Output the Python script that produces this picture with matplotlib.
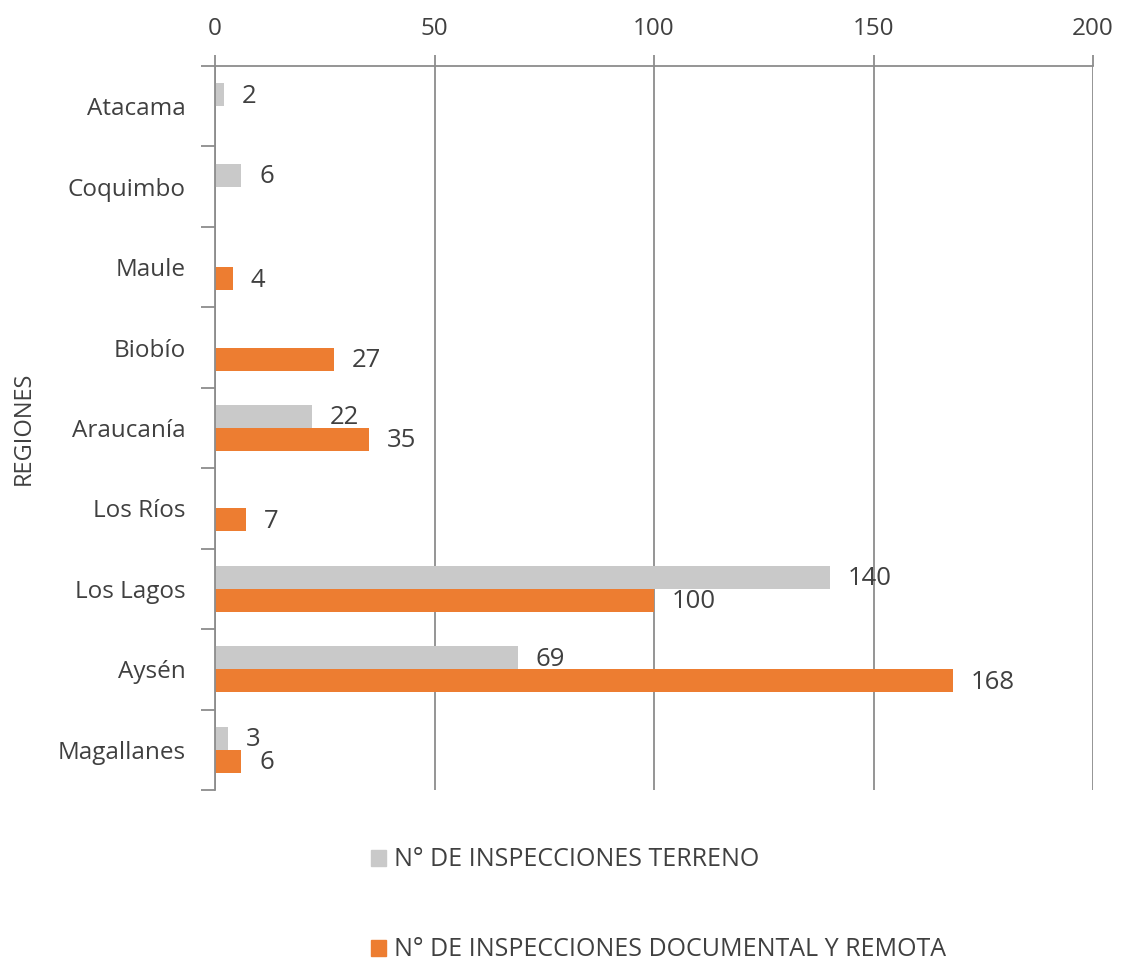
import numpy as np
import matplotlib.pyplot as plt
from matplotlib.patches import Patch

regions = ['Atacama', 'Coquimbo', 'Maule', 'Biobío', 'Araucanía',
           'Los Ríos', 'Los Lagos', 'Aysén', 'Magallanes']
terreno = [2, 6, 0, 0, 22, 0, 140, 69, 3]
documental = [0, 0, 4, 27, 35, 7, 100, 168, 6]
x_ticks = [0, 50, 100, 150, 200]
series_names = ['N° DE INSPECCIONES TERRENO',
                'N° DE INSPECCIONES DOCUMENTAL Y REMOTA']

gray = '#c9c9c9'
orange = '#ed7d31'
txt = '#404040'
line = '#8c8c8c'

plt.rcParams['font.family'] = ['Open Sans', 'DejaVu Sans']

fig = plt.figure(figsize=(11.22, 9.61), dpi=100)
ax = fig.add_axes([215 / 1122, 1 - 790 / 961, (1093 - 215) / 1122, (790 - 66) / 961])

y = np.arange(len(regions))
h = 0.286
for i, (t, d) in enumerate(zip(terreno, documental)):
    if t:
        ax.barh(y[i] - h / 2, t, height=h, color=gray, zorder=2)
        ax.annotate(str(t), (t, y[i] - h / 2), xytext=(13, -1), textcoords='offset points',
                    va='center', ha='left', fontsize=18.5, color=txt)
    if d:
        ax.barh(y[i] + h / 2, d, height=h, color=orange, zorder=2)
        ax.annotate(str(d), (d, y[i] + h / 2), xytext=(13, -1), textcoords='offset points',
                    va='center', ha='left', fontsize=18.5, color=txt)

ax.set_xlim(0, 200)
ax.set_ylim(len(regions) - 0.5, -0.5)
ax.xaxis.tick_top()
ax.set_xticks(x_ticks)
ax.set_xticklabels([str(v) for v in x_ticks], fontsize=17.5, color=txt)
ax.tick_params(axis='x', length=8, color=line, width=1.3, pad=10)
ax.grid(axis='x', color=line, linewidth=1.3, zorder=0)
ax.set_axisbelow(True)

ax.set_yticks(y)
ax.set_yticklabels(regions, fontsize=17.5, color=txt)
ax.set_yticks(np.arange(len(regions) + 1) - 0.5, minor=True)
ax.tick_params(axis='y', which='major', length=0, pad=21)
ax.tick_params(axis='y', which='minor', length=10, color=line, width=1.3)

for s in ['right', 'bottom']:
    ax.spines[s].set_visible(False)
for s in ['left', 'top']:
    ax.spines[s].set_color(line)
    ax.spines[s].set_linewidth(1.3)

fig.text(24 / 1122, 1 - 428 / 961, 'REGIONES', rotation=90, fontsize=17,
         color=txt, ha='center', va='center')

handles = [Patch(color=gray), Patch(color=orange)]
fig.legend(handles, series_names, loc='upper left', bbox_to_anchor=(348 / 1122, 1 - 825 / 961),
           frameon=False, fontsize=18, labelcolor=txt, handlelength=0.6, handleheight=0.6,
           handletextpad=0.35, labelspacing=2.6)

fig.savefig('out.png', dpi=100, facecolor='white')
